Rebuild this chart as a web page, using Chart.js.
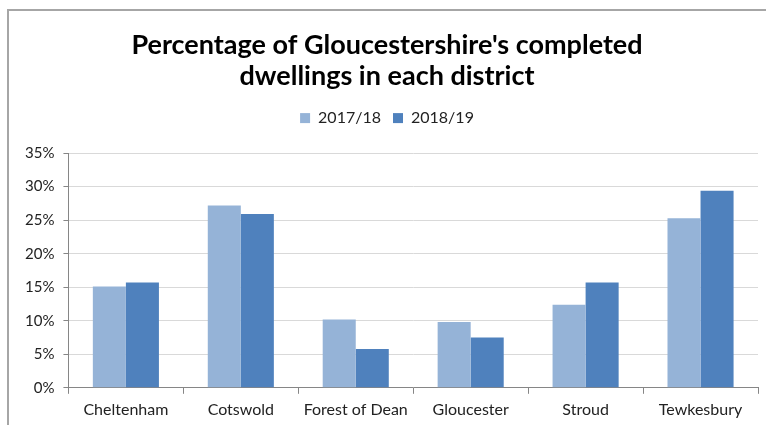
<!DOCTYPE html>
<html>
<head>
<meta charset="utf-8">
<script src="https://cdn.jsdelivr.net/npm/chart.js@4/dist/chart.umd.min.js"></script>
<style>
html,body{margin:0;padding:0;background:#fff;}
#wrap{width:766px;height:425px;position:relative;}
</style>
</head>
<body>
<div id="wrap"><canvas id="c"></canvas></div>
<script>
const categories = ["Cheltenham", "Cotswold", "Forest of Dean", "Gloucester", "Stroud", "Tewkesbury"];
const series2017 = [0.151, 0.272, 0.102, 0.098, 0.124, 0.253];
const series2018 = [0.157, 0.259, 0.058, 0.075, 0.157, 0.294];
const seriesNames = ["2017/18", "2018/19"];
const titleLines = ["Percentage of Gloucestershire's completed", "dwellings in each district"];

const FONT = "Lato, 'Open Sans', sans-serif";

const borderPlugin = {
  id: 'outerBorder',
  beforeDraw(chart) {
    const ctx = chart.ctx;
    ctx.save();
    ctx.fillStyle = '#fff';
    ctx.fillRect(0, 0, chart.width, chart.height);
    ctx.strokeStyle = '#a6a6a6';
    ctx.lineWidth = 2;
    ctx.beginPath();
    ctx.moveTo(8, 440);
    ctx.lineTo(8, 10);
    ctx.lineTo(780, 10);
    ctx.stroke();
    ctx.restore();
  }
};

const legendMargin = {
  id: 'legendMargin',
  beforeInit(chart) {
    const origFit = chart.legend.fit;
    chart.legend.fit = function () {
      origFit.call(this);
      this.height += 17;
    };
  }
};

new Chart(document.getElementById('c'), {
  type: 'bar',
  data: {
    labels: categories,
    datasets: [
      { label: seriesNames[0], data: series2017, backgroundColor: '#95b3d7', borderWidth: 0 },
      { label: seriesNames[1], data: series2018, backgroundColor: '#4f81bd', borderWidth: 0 }
    ]
  },
  options: {
    responsive: true,
    maintainAspectRatio: false,
    animation: false,
    layout: { padding: { left: 16, right: 8, top: 0, bottom: 0 } },
    datasets: { bar: { categoryPercentage: 0.575, barPercentage: 1.0 } },
    plugins: {
      title: {
        display: true,
        text: titleLines,
        color: '#000',
        font: { family: FONT, size: 27, weight: 'bold', lineHeight: 1.15 },
        padding: { top: 30, bottom: 6 }
      },
      legend: {
        display: true,
        position: 'top',
        labels: {
          boxWidth: 10, boxHeight: 10, color: '#222',
          font: { family: FONT, size: 16 },
          padding: 12
        }
      },
      tooltip: { enabled: false }
    },
    scales: {
      x: {
        grid: { display: true, drawOnChartArea: false, drawTicks: true, tickLength: 6, color: '#868686', offset: true },
        border: { color: '#868686' },
        ticks: { color: '#222', font: { family: FONT, size: 16 }, padding: 6, maxRotation: 0, minRotation: 0, autoSkip: false }
      },
      y: {
        min: 0, max: 0.35,
        ticks: {
          stepSize: 0.05, color: '#222', font: { family: FONT, size: 15 }, padding: 9,
          callback: v => Math.round(v * 100) + '%'
        },
        grid: { color: '#d9d9d9', tickColor: '#868686', tickLength: 5 },
        border: { color: '#868686' }
      }
    }
  },
  plugins: [borderPlugin, legendMargin]
});
</script>
</body>
</html>
